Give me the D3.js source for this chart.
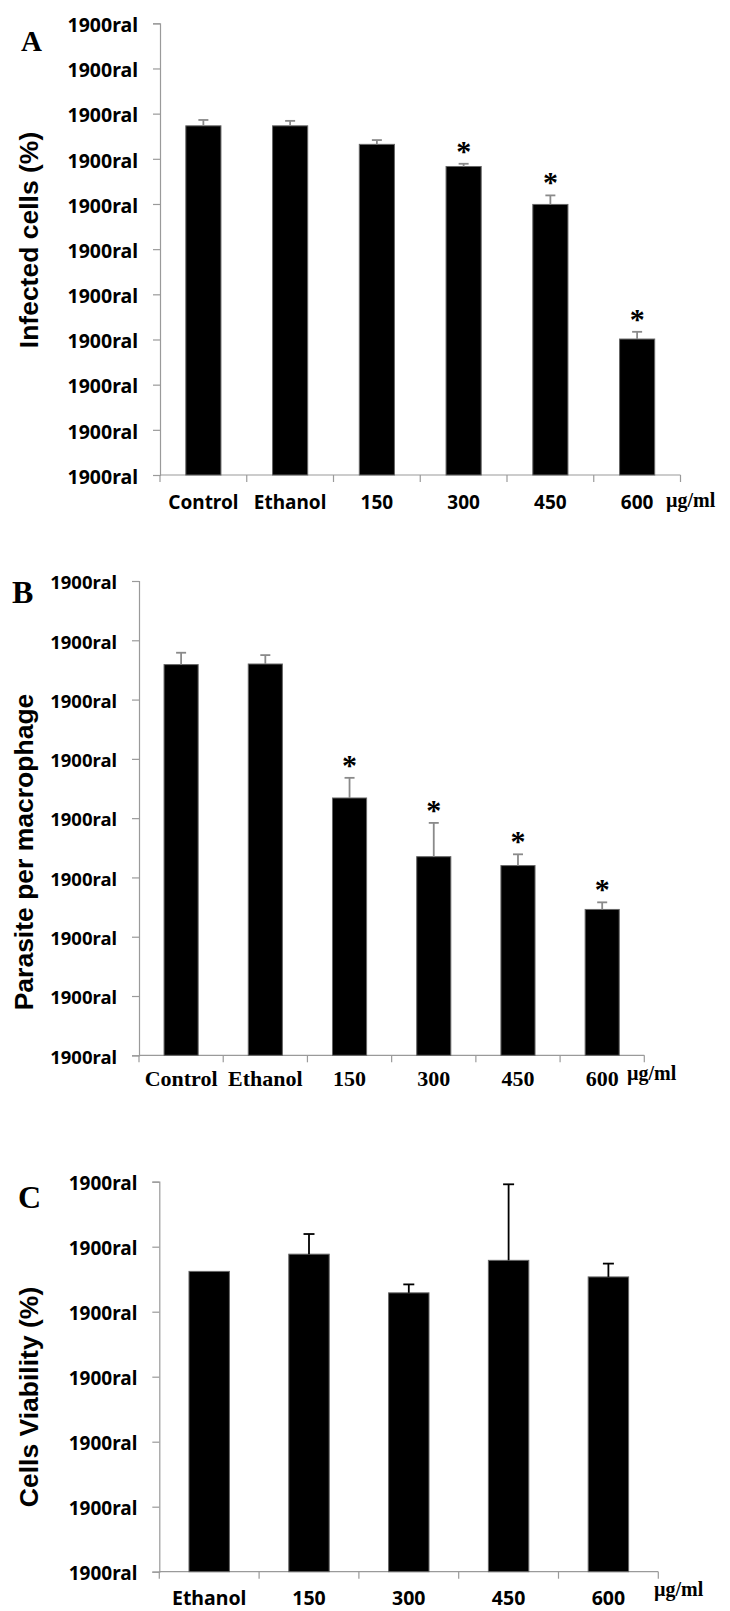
<!DOCTYPE html>
<html>
<head>
<meta charset="utf-8">
<script src="https://cdn.jsdelivr.net/npm/d3@7"></script>
<style>
  body { margin: 0; background: #fff; }
  svg { display: block; }
</style>
</head>
<body>
<div class="chart"></div>
<script>
// Data
var tickLabel = "1900ral";

var categoriesA = ["Control", "Ethanol", "150", "300", "450", "600"];
var infectedMean = [77.3, 77.3, 73.2, 68.3, 59.9, 30.1];
var infectedErr = [1.3, 1.1, 0.95, 0.6, 2.0, 1.6];
var infectedSig = [false, false, false, true, true, true];
var ticksA = [0, 10, 20, 30, 40, 50, 60, 70, 80, 90, 100];

var categoriesB = ["Control", "Ethanol", "150", "300", "450", "600"];
var parasiteMean = [6.59, 6.60, 4.34, 3.35, 3.20, 2.46];
var parasiteErr = [0.20, 0.15, 0.34, 0.57, 0.19, 0.12];
var parasiteSig = [false, false, true, true, true, true];
var ticksB = [0, 1, 2, 3, 4, 5, 6, 7, 8];

var categoriesC = ["Ethanol", "150", "300", "450", "600"];
var viabilityMean = [92.4, 97.7, 85.8, 95.8, 90.7];
var viabilityErr = [0, 6.2, 2.6, 23.4, 4.1];
var viabilitySig = [false, false, false, false, false];
var ticksC = [0, 20, 40, 60, 80, 100, 120];

var svg = d3.select(".chart")
  .append("svg")
  .attr("width", 730)
  .attr("height", 1611);

svg.append("rect").attr("width", 730).attr("height", 1611).attr("fill", "#fff");

var sansBold = "'Noto Sans', 'Open Sans', sans-serif";
var serif = "'Liberation Serif', 'Times New Roman', serif";
var arial = "'Liberation Sans', Arial, sans-serif";

function drawPanel(p) {
  var g = svg.append("g");

  var y = d3.scaleLinear()
    .domain([p.ticks[0], p.ticks[p.ticks.length - 1]])
    .range([p.bottom, p.top]);

  var x = d3.scaleBand()
    .domain(p.categories)
    .range([p.left, p.right])
    .padding(0);

  var barW = x.bandwidth() * 0.405;

  // y axis
  var leftAxis = d3.axisLeft(y)
    .tickValues(p.ticks)
    .tickFormat(function() { return tickLabel; })
    .tickSize(7)
    .tickPadding(15);

  var ya = g.append("g")
    .attr("transform", "translate(" + p.left + ",0)")
    .call(leftAxis);
  ya.select(".domain").attr("stroke", "#9a9a9a").attr("stroke-width", 1.2);
  ya.selectAll(".tick line").attr("stroke", "#9a9a9a").attr("stroke-width", 1.2);
  ya.selectAll(".tick text")
    .attr("fill", "#000")
    .style("font-family", sansBold)
    .style("font-weight", 700)
    .style("font-size", p.tickSize + "px")
    .attr("dy", "0.42em");

  // x axis line and boundary ticks
  g.append("line")
    .attr("x1", p.left).attr("x2", p.right)
    .attr("y1", p.bottom).attr("y2", p.bottom)
    .attr("stroke", "#9a9a9a").attr("stroke-width", 1.2);

  var bounds = p.categories.map(function(c) { return x(c); }).concat([p.right]);
  g.selectAll(".xtick")
    .data(bounds)
    .enter()
    .append("line")
    .attr("x1", function(d) { return d; })
    .attr("x2", function(d) { return d; })
    .attr("y1", p.bottom)
    .attr("y2", p.bottom + 7)
    .attr("stroke", "#9a9a9a").attr("stroke-width", 1.2);

  var rows = p.categories.map(function(c, i) {
    return { cat: c, mean: p.mean[i], err: p.err[i], sig: p.sig[i] };
  });

  // bars
  g.selectAll(".bar")
    .data(rows)
    .enter()
    .append("rect")
    .attr("x", function(d) { return x(d.cat) + (x.bandwidth() - barW) / 2; })
    .attr("y", function(d) { return y(d.mean); })
    .attr("width", barW)
    .attr("height", function(d) { return p.bottom - y(d.mean); })
    .attr("fill", "#000")
    .attr("stroke", "#666")
    .attr("stroke-width", 1);

  // error bars
  var withErr = rows.filter(function(d) { return d.err > 0; });
  g.selectAll(".errv")
    .data(withErr)
    .enter()
    .append("line")
    .attr("x1", function(d) { return x(d.cat) + x.bandwidth() / 2; })
    .attr("x2", function(d) { return x(d.cat) + x.bandwidth() / 2; })
    .attr("y1", function(d) { return y(d.mean); })
    .attr("y2", function(d) { return y(d.mean + d.err); })
    .attr("stroke", p.errColor).attr("stroke-width", 1.8);

  g.selectAll(".errc")
    .data(withErr)
    .enter()
    .append("line")
    .attr("x1", function(d) { return x(d.cat) + x.bandwidth() / 2 - p.capW / 2; })
    .attr("x2", function(d) { return x(d.cat) + x.bandwidth() / 2 + p.capW / 2; })
    .attr("y1", function(d) { return y(d.mean + d.err); })
    .attr("y2", function(d) { return y(d.mean + d.err); })
    .attr("stroke", p.errColor).attr("stroke-width", 1.8);

  // significance stars
  g.selectAll(".star")
    .data(rows.filter(function(d) { return d.sig; }))
    .enter()
    .append("text")
    .attr("x", function(d) { return x(d.cat) + x.bandwidth() / 2; })
    .attr("y", function(d) { return y(d.mean + d.err) - 3; })
    .attr("text-anchor", "middle")
    .style("font-family", serif)
    .style("font-weight", 700)
    .style("font-size", "30px")
    .text("*");

  // category labels
  g.selectAll(".xlabel")
    .data(p.categories)
    .enter()
    .append("text")
    .attr("x", function(d) { return x(d) + x.bandwidth() / 2; })
    .attr("y", p.labelBase)
    .attr("text-anchor", "middle")
    .style("font-family", p.labelFont)
    .style("font-weight", 700)
    .style("font-size", p.labelSize + "px")
    .text(function(d) { return d; });

  // unit
  g.append("text")
    .attr("x", p.unitX)
    .attr("y", p.unitBase)
    .style("font-family", serif)
    .style("font-weight", 700)
    .style("font-size", "20px")
    .text("\u00b5g/ml");

  // y title
  g.append("text")
    .attr("transform", "translate(" + p.titleX + "," + p.titleY + ") rotate(-90)")
    .attr("text-anchor", "middle")
    .style("font-family", arial)
    .style("font-weight", 700)
    .style("font-size", "26.5px")
    .text(p.title);

  // panel letter
  g.append("text")
    .attr("x", p.letterX)
    .attr("y", p.letterY)
    .style("font-family", serif)
    .style("font-weight", 700)
    .style("font-size", p.letterSize + "px")
    .text(p.letter);
}

drawPanel({
  categories: categoriesA, mean: infectedMean, err: infectedErr, sig: infectedSig,
  ticks: ticksA, left: 160, right: 680.5, top: 23.3, bottom: 475,
  tickSize: 19.5, errColor: "#8a8a8a", capW: 10,
  labelFont: sansBold, labelSize: 19, labelBase: 509,
  unitX: 666, unitBase: 507,
  title: "Infected cells (%)", titleX: 38, titleY: 240,
  letter: "A", letterX: 21, letterY: 51, letterSize: 29
});

drawPanel({
  categories: categoriesB, mean: parasiteMean, err: parasiteErr, sig: parasiteSig,
  ticks: ticksB, left: 139, right: 644.3, top: 581, bottom: 1055.3,
  tickSize: 18.5, errColor: "#8a8a8a", capW: 10,
  labelFont: serif, labelSize: 22, labelBase: 1086,
  unitX: 627, unitBase: 1080,
  title: "Parasite per macrophage", titleX: 33, titleY: 852,
  letter: "B", letterX: 12, letterY: 603, letterSize: 32
});

drawPanel({
  categories: categoriesC, mean: viabilityMean, err: viabilityErr, sig: viabilitySig,
  ticks: ticksC, left: 159.3, right: 658.3, top: 1181.7, bottom: 1571.7,
  tickSize: 19, errColor: "#000", capW: 11,
  labelFont: sansBold, labelSize: 19.5, labelBase: 1605,
  unitX: 654, unitBase: 1596,
  title: "Cells Viability (%)", titleX: 38, titleY: 1397,
  letter: "C", letterX: 18, letterY: 1208, letterSize: 32
});
</script>
</body>
</html>
